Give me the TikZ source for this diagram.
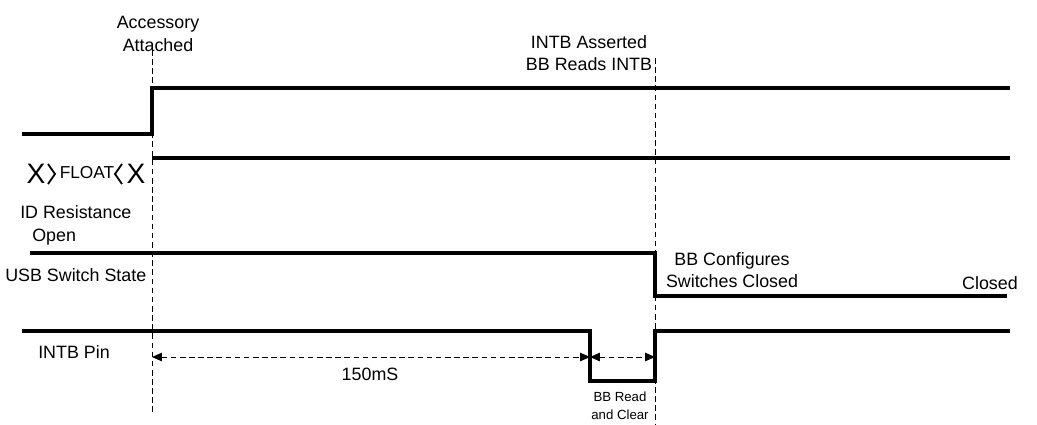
\documentclass[tikz,border=0pt]{standalone}
\usepackage{fontspec}
\setmainfont{Liberation Sans}
\usetikzlibrary{arrows.meta,positioning}
\tikzset{sig/.style={line width=2.5pt, line join=miter}}
\tikzset{guide/.style={dashed, line width=0.5pt, dash pattern=on 4pt off 2.5pt}}
\tikzset{dim/.style={dashed, line width=0.7pt, dash pattern=on 4pt off 2.5pt, {Triangle[length=7pt,width=6pt]}-{Triangle[length=7pt,width=6pt]}}}
\tikzset{lbl/.style={inner sep=0pt, align=center, font=\fontsize{12.7}{16}\selectfont}}
\tikzset{smalllbl/.style={inner sep=0pt, align=center, font=\fontsize{9.4}{12.6}\selectfont}}

\begin{document}
\begin{tikzpicture}[x=0.025cm,y=-0.025cm]
    \useasboundingbox (0,0) rectangle (1037,424);

    % labels
    \node[lbl] (acc) at (158, 34) {Accessory\\Attached};
    \node[lbl] (asrt) at (589, 53) {INTB Asserted\\BB Reads INTB};
    \node[lbl, anchor=west] (idres) at (20, 212) {ID Resistance};
    \node[lbl, anchor=west] (open) at (32, 237) {Open};
    \node[lbl, anchor=west] (usb) at (5, 275) {USB Switch State};
    \node[lbl] (cfg) at (732, 270) {BB Configures\\Switches Closed};
    \node[lbl, anchor=east] (closed) at (1018, 283) {Closed};
    \node[lbl, anchor=west] (pin) at (38, 352) {INTB Pin};
    \node[lbl] (ms) at (370, 374) {150mS};
    \node[smalllbl] (rdclr) at (620, 406) {BB Read\\and Clear};

    % bus state
    \node[inner sep=0pt, font=\fontsize{20}{20}\selectfont] (xl) at (36, 174) {X};
    \node[inner sep=0pt, font=\fontsize{12.3}{12}\selectfont] (flt) at (87, 173) {FLOAT};
    \node[inner sep=0pt, font=\fontsize{20}{20}\selectfont] (xr) at (136, 174) {X};
    \draw[line width=1.3pt] (48,164) -- (55,174) -- (48,184);
    \draw[line width=1.3pt] (122,164) -- (115,174) -- (122,184);

    % event guides
    \coordinate (g1t) at (152, 50);
    \coordinate (g1b) at (152, 412);
    \coordinate (g2t) at (655, 58);
    \coordinate (g2b) at (655, 424);
    \draw[guide] (g1t) -- (g1b);
    \draw[guide] (g2t) -- (g2b);

    % waveforms
    \draw[sig] (22,134) -- (152,134) -- (152,88) -- (1010,88);
    \draw[sig] (152,158) -- (1010,158);
    \draw[sig] (30,253) -- (655,253) -- (655,296) -- (1007,296);
    \draw[sig] (22,331) -- (590,331) -- (590,381) -- (655,381) -- (655,331) -- (1010,331);

    % timing
    \coordinate (t0) at (152, 357);
    \coordinate (t1) at (590, 357);
    \coordinate (t2) at (655, 357);
    \draw[dim] (t0) -- (t1);
    \draw[dim] (t1) -- (t2);
\end{tikzpicture}
\end{document}
